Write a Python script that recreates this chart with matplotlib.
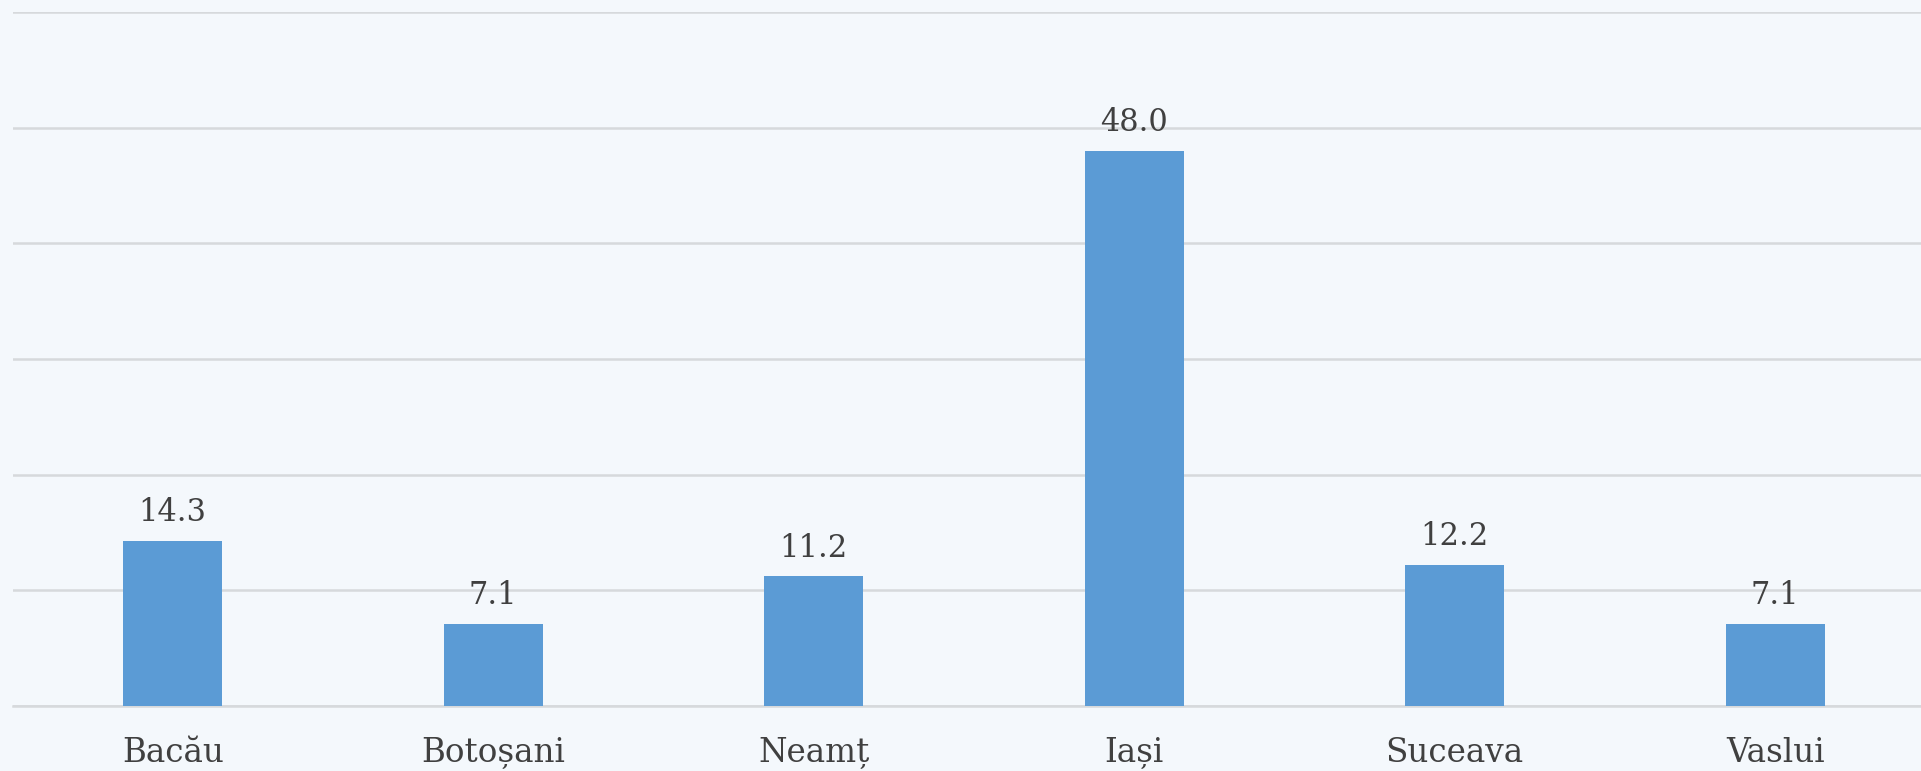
import numpy as np
import matplotlib.pyplot as plt

# data
counties = ['Bacău', 'Botoșani', 'Neamț', 'Iași', 'Suceava', 'Vaslui']
values = [14.3, 7.1, 11.2, 48.0, 12.2, 7.1]

bg = '#f4f8fc'
bar_color = '#5b9bd5'
text_color = '#404040'
grid_color = '#d6d9dc'

fig = plt.figure(figsize=(19.21, 7.71), dpi=100, facecolor=bg)
# axes runs a bit past the right edge like the original
ax = fig.add_axes([12.5 / 1921, 65 / 771, 1923 / 1921, 694 / 771])
ax.set_facecolor(bg)

x = np.arange(len(counties))
bars = ax.bar(x, values, width=0.31, color=bar_color, zorder=3)

ax.set_xlim(-0.5, len(counties) - 0.5)
ax.set_ylim(0, 60)
ax.set_yticks(np.arange(0, 61, 10))
ax.yaxis.grid(True, color=grid_color, linewidth=1.8, zorder=0)
# baseline, not clipped so it shows full width
ax.axhline(0, color=grid_color, linewidth=1.8, zorder=2, clip_on=False)
ax.tick_params(axis='y', left=False, labelleft=False)
ax.tick_params(axis='x', length=0, pad=22)
ax.set_xticks(x)
ax.set_xticklabels(counties, fontsize=23.5, color=text_color, family='DejaVu Serif')

for loc, spine in ax.spines.items():
    spine.set_color('none')

for xi, v in zip(x, values):
    ax.annotate('%.1f' % v, (xi, v), xytext=(0, 9), textcoords='offset points',
                ha='center', va='bottom', fontsize=22, color=text_color,
                family='DejaVu Serif')

plt.savefig('out.png', dpi=100, facecolor=bg)
plt.close()
